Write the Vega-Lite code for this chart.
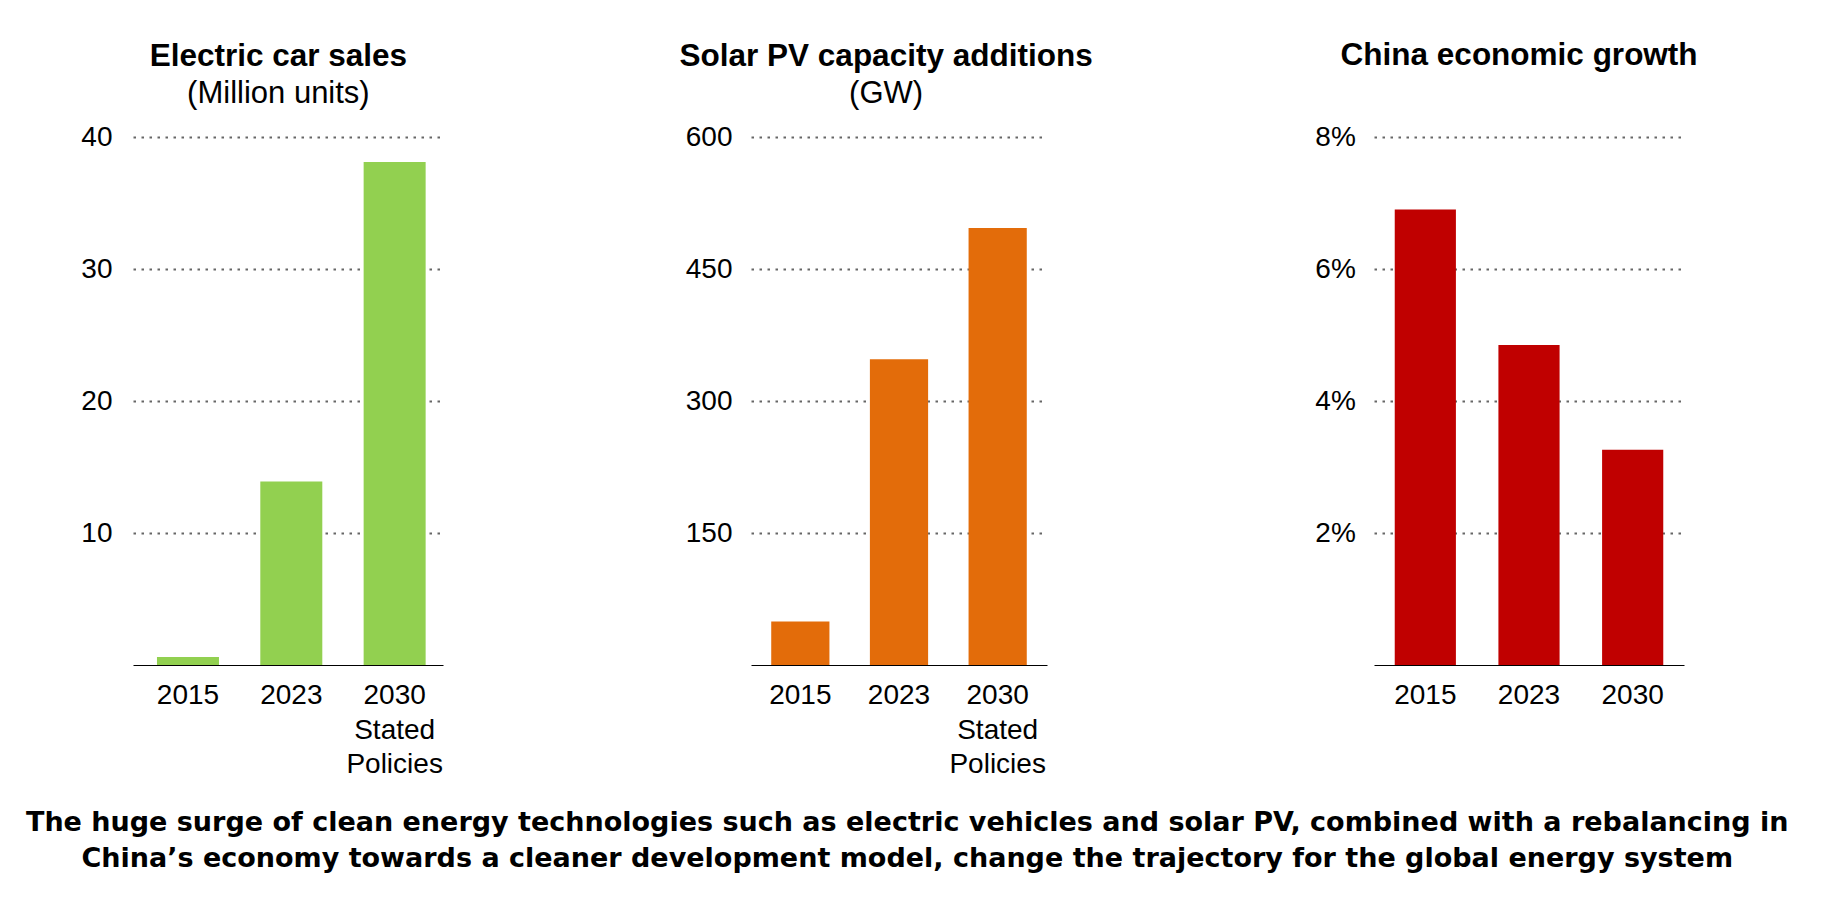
{
  "$schema": "https://vega.github.io/schema/vega-lite/v6.json",
  "autosize": {"type": "none"},
  "padding": {"left": 133, "top": 137, "right": 1692, "bottom": 765},
  "background": "white",
  "config": {
    "font": "Liberation Sans",
    "view": {"stroke": null},
    "axisX": {"domainColor": "black", "domainWidth": 1, "ticks": false, "labelFontSize": 28, "labelColor": "black", "labelPadding": 16.8, "labelLineHeight": 34.5, "grid": false, "labelAngle": 0, "title": null},
    "axisY": {"domain": false, "ticks": false, "labelFontSize": 28, "labelColor": "black", "grid": true, "gridColor": "#666666", "gridWidth": 2, "gridDash": [2.5, 5.5], "title": null},
    "title": {"font": "Liberation Sans", "subtitleFont": "Liberation Sans", "color": "black", "subtitleColor": "black", "fontWeight": "bold", "fontSize": 31.5, "subtitleFontSize": 31, "subtitlePadding": 6.6, "anchor": "middle", "frame": "group"}
  },
  "datasets": {
    "ev": [{"year": "2015", "value": 0.6}, {"year": "2023", "value": 13.9}, {"year": "2030", "value": 38.1}],
    "pv": [{"year": "2015", "value": 49.5}, {"year": "2023", "value": 347.5}, {"year": "2030", "value": 496.7}],
    "gdp": [{"year": "2015", "value": 6.9}, {"year": "2023", "value": 4.85}, {"year": "2030", "value": 3.26}]
  },
  "title": {
    "text": ["The huge surge of clean energy technologies such as electric vehicles and solar PV, combined with a rebalancing in", "China’s economy towards a cleaner development model, change the trajectory for the global energy system"],
    "orient": "bottom", "anchor": "middle", "frame": "bounds", "font": "DejaVu Sans", "fontWeight": "bold", "fontSize": 27, "lineHeight": 36.7, "offset": 31, "dx": 18, "color": "black"
  },
  "bounds": "flush",
  "spacing": 308,
  "hconcat": [
    {
      "width": 310, "height": 528,
      "data": {"name": "ev"},
      "title": {"text": "Electric car sales", "subtitle": "(Million units)", "dx": -9.6, "offset": 13.7},
      "mark": {"type": "bar", "color": "#92D050"},
      "encoding": {
        "x": {"field": "year", "type": "ordinal", "sort": null, "scale": {"paddingInner": 0.4, "paddingOuter": 0.2, "align": 0.58},
              "axis": {"labelExpr": "datum.value == '2030' ? ['2030', 'Stated', 'Policies'] : datum.label"}},
        "y": {"field": "value", "type": "quantitative", "scale": {"domain": [0, 40], "nice": false},
              "axis": {"values": [10, 20, 30, 40], "labelPadding": 21}}
      }
    },
    {
      "bounds": "flush",
      "spacing": 327,
      "hconcat": [
        {
          "width": 296, "height": 528,
          "data": {"name": "pv"},
          "title": {"text": "Solar PV capacity additions", "subtitle": "(GW)", "dx": -12.9, "offset": 13.7},
          "mark": {"type": "bar", "color": "#E36C0A"},
          "encoding": {
            "x": {"field": "year", "type": "ordinal", "sort": null, "scale": {"paddingInner": 0.41, "paddingOuter": 0.205},
                  "axis": {"labelExpr": "datum.value == '2030' ? ['2030', 'Stated', 'Policies'] : datum.label"}},
            "y": {"field": "value", "type": "quantitative", "scale": {"domain": [0, 600], "nice": false},
                  "axis": {"values": [150, 300, 450, 600], "labelPadding": 19}}
          }
        },
        {
          "width": 310, "height": 528,
          "data": {"name": "gdp"},
          "title": {"text": "China economic growth", "dx": -9.9, "offset": 51.3},
          "mark": {"type": "bar", "color": "#C00000"},
          "encoding": {
            "x": {"field": "year", "type": "ordinal", "sort": null, "scale": {"paddingInner": 0.41, "paddingOuter": 0.2}},
            "y": {"field": "value", "type": "quantitative", "scale": {"domain": [0, 8], "nice": false},
                  "axis": {"values": [2, 4, 6, 8], "labelExpr": "datum.value + '%'", "labelPadding": 18.7}}
          }
        }
      ]
    }
  ]
}
